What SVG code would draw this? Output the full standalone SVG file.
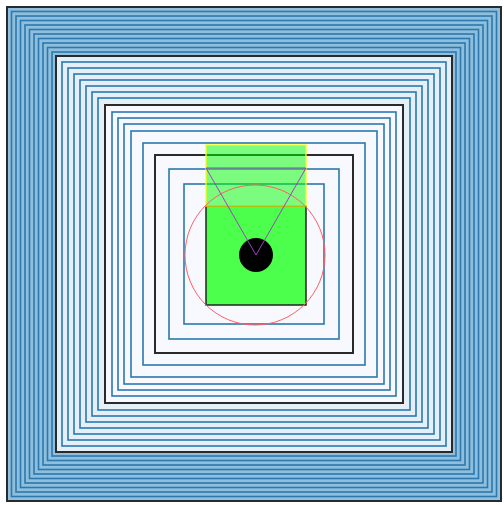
<svg xmlns="http://www.w3.org/2000/svg" width="504" height="505" viewBox="0 0 504 505">
<style>
.b{fill:none;stroke:#2b79ae;stroke-width:1.6}
.k{fill:none;stroke:#2a2a2a;stroke-width:2}
</style>
<rect width="504" height="505" fill="#ffffff"/>
<g id="squares">
<rect x="7" y="7" width="494" height="494" fill="#8fbfdc"/>
<rect x="56" y="56" width="396" height="396" fill="#e4eff7"/>
<rect x="105" y="105" width="298" height="298" fill="#f8f8ff"/>
<g id="band1">
<rect class="b" x="11.5" y="11.5" width="485" height="485"/>
<rect class="b" x="16" y="16" width="476" height="476"/>
<rect class="b" x="20.5" y="20.5" width="467" height="467"/>
<rect class="b" x="25" y="25" width="458" height="458"/>
<rect class="b" x="29.5" y="29.5" width="449" height="449"/>
<rect class="b" x="34" y="34" width="440" height="440"/>
<rect class="b" x="38.5" y="38.5" width="431" height="431"/>
<rect class="b" x="43" y="43" width="422" height="422"/>
<rect class="b" x="47.5" y="47.5" width="413" height="413"/>
<rect class="b" x="52" y="52" width="404" height="404"/>
</g>
<g id="band2">
<rect class="b" x="62" y="62" width="384" height="384"/>
<rect class="b" x="68" y="68" width="372" height="372"/>
<rect class="b" x="74" y="74" width="360" height="360"/>
<rect class="b" x="80" y="80" width="348" height="348"/>
<rect class="b" x="86" y="86" width="336" height="336"/>
<rect class="b" x="92" y="92" width="324" height="324"/>
<rect class="b" x="98" y="98" width="312" height="312"/>
</g>
<g id="band3">
<rect class="b" x="112" y="112" width="284" height="284"/>
<rect class="b" x="118" y="118" width="272" height="272"/>
<rect class="b" x="124" y="124" width="260" height="260"/>
<rect class="b" x="131" y="131" width="246" height="246"/>
<rect class="b" x="143" y="143" width="222" height="222"/>
</g>
<g id="band4">
<rect class="b" x="169" y="169" width="170" height="170"/>
<rect class="b" x="184" y="184" width="140" height="140"/>
</g>
<g id="black">
<rect class="k" x="7" y="7" width="494" height="494"/>
<rect class="k" x="56" y="56" width="396" height="396"/>
<rect class="k" x="105" y="105" width="298" height="298"/>
<rect class="k" x="155" y="155" width="198" height="198"/>
</g>
</g>
<g id="figure">
<rect id="green-square" x="206" y="206" width="100" height="99" fill="#4dff4d" stroke="#222" stroke-width="1.5"/>
<rect id="yellow-rect" x="206" y="145" width="100" height="61" fill="#00ff00" fill-opacity="0.5" stroke="#ffff00" stroke-opacity="0.7" stroke-width="1.8"/>
<circle id="red-circle" cx="255" cy="255" r="70" fill="none" stroke="#ff6060" stroke-width="1"/>
<circle id="black-dot" cx="256" cy="255" r="17" fill="#000"/>
<polygon id="triangle" points="206,168 306,168 256,255" fill="none" stroke="#a040c0" stroke-width="1"/>
</g>
</svg>
